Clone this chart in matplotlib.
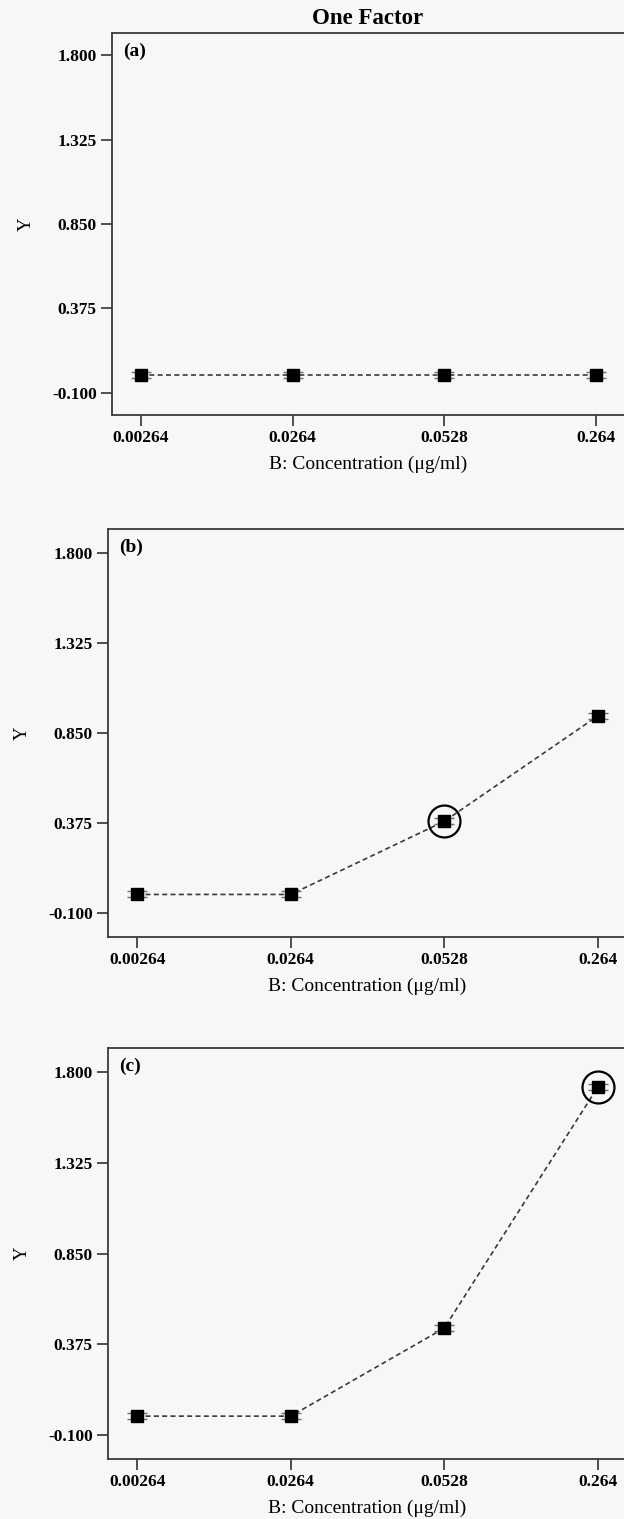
#!/usr/bin/env python3
import matplotlib
matplotlib.use('Agg')
import matplotlib.pyplot as plt

# --- Data ---
conc_labels = ['0.00264', '0.0264', '0.0528', '0.264']
y_ticks = [-0.100, 0.375, 0.850, 1.325, 1.800]
panel_names = ['(a)', '(b)', '(c)']

y_a = [0.0, 0.0, 0.0, 0.0]
y_b = [0.0, 0.0, 0.385, 0.94]
y_c = [0.0, 0.0, 0.46, 1.72]

err_a = [0.016, 0.016, 0.016, 0.016]
err_b = [0.016, 0.016, 0.016, 0.016]
err_c = [0.016, 0.016, 0.016, 0.016]

# index of the circled (highlighted) point in each panel, None if none
circled = [None, 2, 3]

W, H = 624, 1519
SERIF = ['Liberation Serif', 'DejaVu Serif']
BG = '#f7f7f7'


def px_rect(left, right, top, bottom):
    """Convert pixel box (from top-left) into figure fraction rect."""
    return [left / W, 1 - bottom / H, (right - left) / W, (bottom - top) / H]


def draw_panel(ax, values, errors, name, circle_idx):
    x = list(range(len(conc_labels)))
    ax.set_facecolor(BG)

    ax.plot(x, values, color='#3a3a3a', lw=1.2, ls=(0, (3, 2)), zorder=2)
    ax.errorbar(x, values, yerr=errors, fmt='none', ecolor='#707070',
                elinewidth=1.0, capsize=7, capthick=1.0, zorder=3)
    ax.plot(x, values, ls='none', marker='s', ms=8, color='black', zorder=4)

    if circle_idx is not None:
        ax.plot(x[circle_idx], values[circle_idx], ls='none', marker='o', ms=23,
                mfc='none', mec='black', mew=1.6, zorder=5)

    ax.set_xlim(-0.19, 3.19)
    ax.set_ylim(-0.224, 1.924)
    ax.set_xticks(x)
    ax.set_xticklabels(conc_labels)
    ax.set_yticks(y_ticks)
    ax.set_yticklabels([f'{v:.3f}' for v in y_ticks])

    for lbl in ax.get_xticklabels() + ax.get_yticklabels():
        lbl.set_family(SERIF)
        lbl.set_fontweight('bold')
        lbl.set_fontsize(12.5)

    ax.tick_params(axis='both', direction='out', length=8, width=1.2,
                   color='#333333', pad=3)
    for sp in ax.spines.values():
        sp.set_color('#3a3a3a')
        sp.set_linewidth(1.3)

    ax.set_xlabel('B: Concentration (\u03bcg/ml)', family=SERIF, fontsize=14,
                  labelpad=7)
    ax.set_ylabel('Y', family=SERIF, fontsize=13.5, labelpad=12)

    ax.annotate(name, xy=(0, 1), xycoords='axes fraction', xytext=(8, -13),
                textcoords='offset points', ha='left', va='center',
                family=SERIF, fontweight='bold', fontsize=14)


def main():
    fig = plt.figure(figsize=(W / 100, H / 100), dpi=100, facecolor=BG)

    boxes = [
        px_rect(112, 625, 33, 415),
        px_rect(108, 627, 529, 937),
        px_rect(108, 627, 1048, 1459),
    ]
    series = [(y_a, err_a), (y_b, err_b), (y_c, err_c)]

    for box, (vals, errs), name, cidx in zip(boxes, series, panel_names, circled):
        ax = fig.add_axes(box)
        draw_panel(ax, vals, errs, name, cidx)

    fig.text(368 / W, 1 - 18 / H, 'One Factor', ha='center', va='center',
             family=SERIF, fontweight='bold', fontsize=16.5)

    fig.savefig('out.png', dpi=100, facecolor=BG)
    print("Plot saved to out.png")


if __name__ == "__main__":
    main()
